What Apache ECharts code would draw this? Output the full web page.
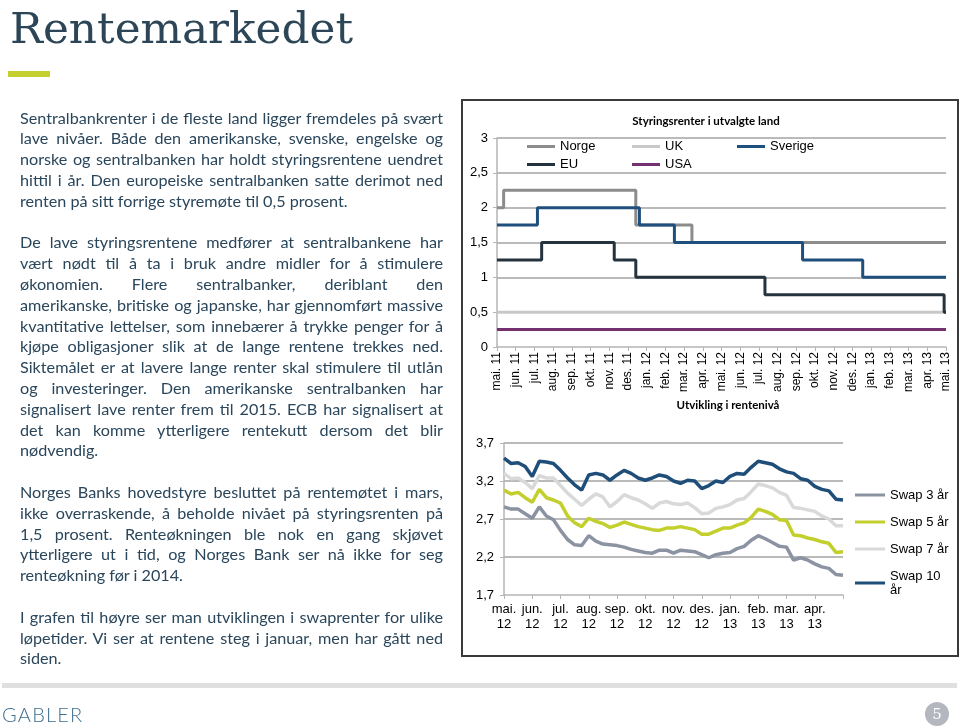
<!DOCTYPE html>
<html>
<head>
<meta charset="utf-8">
<script src="https://cdn.jsdelivr.net/npm/echarts@6/dist/echarts.min.js"></script>
<style>
  html, body { margin:0; padding:0; background:#fff; }
  #page { position:relative; width:960px; height:728px; overflow:hidden; background:#fff; }
  #chart { position:absolute; left:0; top:0; width:960px; height:728px; }
  #title { position:absolute; left:10px; top:6px; font-family:'DejaVu Serif'; color:#2c4657; line-height:1; white-space:nowrap; }
  #bar { position:absolute; left:8px; top:71px; width:42px; height:6px; background:#c5cf2d; }
  #text { position:absolute; left:20px; width:423px; color:#2a465b; font-family:Lato, 'Noto Sans', sans-serif; }
  #text div { height:20.8px; line-height:20.8px; overflow:visible; }
  #text .j { text-align:justify; text-align-last:justify; }
  #text .l { text-align:left; }
  #footbar { position:absolute; left:2px; top:683px; width:955px; height:5px; background:#dfdfdf; }
  #gabler { position:absolute; left:2px; top:703px; font-family:Lato, sans-serif; font-weight:300; font-size:20px; letter-spacing:1.2px; color:#3f6f8c; line-height:22px; }
  #pnum { position:absolute; left:925px; top:702px; width:24px; height:24px; border-radius:12px; background:#b4b7bf; color:#fff; font-family:'DejaVu Serif'; font-size:15px; line-height:24px; text-align:center; }
</style>
</head>
<body>
<div id="page">
  <div id="chart"></div>
  <div id="title">Rentemarkedet</div>
  <div id="bar"></div>
  <div id="text"></div>
  <div id="footbar"></div>
  <div id="gabler">GABLER</div>
  <div id="pnum">5</div>
</div>
<script>
// ---------- Chart 1: Styringsrenter i utvalgte land ----------
const topMonthLabels = ['mai. 11','jun. 11','jul. 11','aug. 11','sep. 11','okt. 11','nov. 11','des. 11',
  'jan. 12','feb. 12','mar. 12','apr. 12','mai. 12','jun. 12','jul. 12','aug. 12','sep. 12','okt. 12',
  'nov. 12','des. 12','jan. 13','feb. 13','mar. 13','apr. 13','mai. 13'];

const norgeDates   = ['2011-05-01','2011-05-12','2011-12-14','2012-03-14','2013-05-01'];
const norgeRates   = [2.00, 2.25, 1.75, 1.50, 1.50];
const ukDates      = ['2011-05-01','2013-05-01'];
const ukRates      = [0.50, 0.50];
const sverigeDates = ['2011-05-01','2011-07-06','2011-12-20','2012-02-15','2012-09-11','2012-12-18','2013-05-01'];
const sverigeRates = [1.75, 2.00, 1.75, 1.50, 1.25, 1.00, 1.00];
const euDates      = ['2011-05-01','2011-07-13','2011-11-09','2011-12-14','2012-07-11','2013-04-28','2013-05-01'];
const euRates      = [1.25, 1.50, 1.25, 1.00, 0.75, 0.50, 0.50];
const usaDates     = ['2011-05-01','2013-05-01'];
const usaRates     = [0.25, 0.25];

// ---------- Chart 2: Utvikling i rentenivå (quarter-month samples, mai 12 - mai 13) ----------
const bottomMonthLabels = ['mai.\n12','jun.\n12','jul.\n12','aug.\n12','sep.\n12','okt.\n12',
  'nov.\n12','des.\n12','jan.\n13','feb.\n13','mar.\n13','apr.\n13'];

const swap3 = [2.86,2.83,2.83,2.77,2.71,2.86,2.74,2.69,2.55,2.43,2.36,2.35,2.48,2.41,2.37,2.36,2.35,2.33,2.30,2.28,2.26,2.25,2.29,2.29,2.25,
  2.29,2.28,2.27,2.23,2.19,2.23,2.25,2.26,2.31,2.34,2.42,2.48,2.44,2.39,2.34,2.33,2.16,2.19,2.16,2.11,2.07,2.05,1.97,1.96];
const swap5 = [3.08,3.03,3.05,2.98,2.92,3.09,2.98,2.95,2.91,2.74,2.65,2.60,2.71,2.67,2.64,2.59,2.62,2.66,2.63,2.60,2.58,2.56,2.55,2.58,2.58,
  2.60,2.58,2.56,2.50,2.50,2.54,2.58,2.58,2.62,2.65,2.72,2.83,2.80,2.76,2.69,2.68,2.49,2.48,2.45,2.43,2.40,2.38,2.26,2.27];
const swap7 = [3.30,3.23,3.24,3.18,3.10,3.27,3.24,3.24,3.14,3.04,2.96,2.88,2.96,3.03,2.99,2.86,2.93,3.02,2.98,2.95,2.90,2.84,2.91,2.93,2.90,
  2.89,2.91,2.85,2.77,2.78,2.84,2.86,2.89,2.95,2.97,3.06,3.16,3.14,3.11,3.05,3.01,2.85,2.84,2.82,2.80,2.74,2.70,2.61,2.61];
const swap10 = [3.50,3.43,3.44,3.39,3.26,3.46,3.45,3.43,3.34,3.24,3.15,3.08,3.28,3.30,3.28,3.21,3.28,3.34,3.30,3.24,3.21,3.24,3.28,3.26,3.20,
  3.17,3.21,3.20,3.10,3.14,3.20,3.18,3.26,3.30,3.29,3.38,3.46,3.44,3.42,3.36,3.32,3.30,3.23,3.21,3.13,3.09,3.07,2.96,2.95];

// ---------- Text ----------
const para1 = ['Sentralbankrenter i de fleste land ligger fremdeles på svært',
  'lave nivåer. Både den amerikanske, svenske, engelske og',
  'norske og sentralbanken har holdt styringsrentene uendret',
  'hittil i år. Den europeiske sentralbanken satte derimot ned',
  'renten på sitt forrige styremøte til 0,5 prosent.'];
const para2 = ['De lave styringsrentene medfører at sentralbankene har',
  'vært nødt til å ta i bruk andre midler for å stimulere',
  'økonomien. Flere sentralbanker, deriblant den',
  'amerikanske, britiske og japanske, har gjennomført massive',
  'kvantitative lettelser, som innebærer å trykke penger for å',
  'kjøpe obligasjoner slik at de lange rentene trekkes ned.',
  'Siktemålet er at lavere lange renter skal stimulere til utlån',
  'og investeringer. Den amerikanske sentralbanken har',
  'signalisert lave renter frem til 2015. ECB har signalisert at',
  'det kan komme ytterligere rentekutt dersom det blir',
  'nødvendig.'];
const para3 = ['Norges Banks hovedstyre besluttet på rentemøtet i mars,',
  'ikke overraskende, å beholde nivået på styringsrenten på',
  '1,5 prosent. Renteøkningen ble nok en gang skjøvet',
  'ytterligere ut i tid, og Norges Bank ser nå ikke for seg',
  'renteøkning før i 2014.'];
const para4 = ['I grafen til høyre ser man utviklingen i swaprenter for ulike',
  'løpetider. Vi ser at rentene steg i januar, men har gått ned',
  'siden.'];

// ---- build text ----
(function () {
  const ctx = document.createElement('canvas').getContext('2d');
  ctx.font = '100px Lato';
  let fs = 100 * 328 / ctx.measureText(para1[4]).width;
  const all = [].concat(para1, para2, para3, para4);
  let maxW = 0;
  all.forEach(s => { maxW = Math.max(maxW, ctx.measureText(s).width); });
  fs = Math.min(fs, 100 * 420 / maxW);
  const box = document.getElementById('text');
  box.style.fontSize = fs.toFixed(2) + 'px';
  box.style.top = (120 - 12.4) + 'px';
  [para1, para2, para3, para4].forEach((p, pi) => {
    if (pi > 0) { const b = document.createElement('div'); box.appendChild(b); }
    p.forEach((line, i) => {
      const d = document.createElement('div');
      d.className = (i === p.length - 1) ? 'l' : 'j';
      d.textContent = line;
      box.appendChild(d);
    });
  });
  ctx.font = '100px "DejaVu Serif"';
  const tw = ctx.measureText('Rentemarkedet').width;
  const tfs = 100 * 343 / tw;
  const t = document.getElementById('title');
  t.style.fontSize = tfs.toFixed(2) + 'px';
  t.style.top = (43 - 0.843 * tfs) + 'px';
})();

// ---- charts ----
function monthPos(s) {
  const [y, m, d] = s.split('-').map(Number);
  const dim = new Date(y, m, 0).getDate();
  return (y - 2011) * 12 + (m - 5) + (d - 1) / dim;
}
function stepData(dates, rates) { return dates.map((d, i) => [monthPos(d), rates[i]]); }
function swapData(arr) { const n = arr.length; return arr.map((v, i) => [i * 12 / (n - 1), v]); }
const fmtNum = v => (Math.round(v * 10) / 10).toString().replace('.', ',');

const AX = '#b5b5b5', GR = '#a3a3a3', FONT = 'Liberation Sans';
const legendBase = { padding: 0, icon: 'rect', itemWidth: 28, itemHeight: 3, selectedMode: false,
  textStyle: { fontSize: 13, fontFamily: FONT, color: '#000' } };

const chart = echarts.init(document.getElementById('chart'), null, { renderer: 'canvas' });
chart.setOption({
  animation: false,
  graphic: [
    { type: 'rect', silent: true, shape: { x: 462, y: 100, width: 496, height: 556 },
      style: { fill: 'none', stroke: '#3a3a3a', lineWidth: 2 } },
    { type: 'text', x: 706, y: 121, silent: true,
      style: { text: 'Styringsrenter i utvalgte land', font: 'bold 11.5px Lato', fill: '#000', align: 'center', verticalAlign: 'middle' } },
    { type: 'text', x: 728, y: 405, silent: true,
      style: { text: 'Utvikling i rentenivå', font: 'bold 11.5px Lato', fill: '#000', align: 'center', verticalAlign: 'middle' } }
  ],
  legend: [
    Object.assign({}, legendBase, { data: ['Norge'], left: 527, top: 140 }),
    Object.assign({}, legendBase, { data: ['UK'], left: 632, top: 140 }),
    Object.assign({}, legendBase, { data: ['Sverige'], left: 737, top: 140 }),
    Object.assign({}, legendBase, { data: ['EU'], left: 527, top: 158 }),
    Object.assign({}, legendBase, { data: ['USA'], left: 632, top: 158 }),
    Object.assign({}, legendBase, { data: ['Swap 3 år', 'Swap 5 år', 'Swap 7 år', 'Swap 10 år'],
      orient: 'vertical', left: 855, top: 488, itemWidth: 30, itemGap: 13,
      formatter: n => n === 'Swap 10 år' ? 'Swap 10\når' : n,
      textStyle: { fontSize: 13, fontFamily: FONT, color: '#000', lineHeight: 14 } })
  ],
  grid: [
    { left: 497, top: 138, width: 449, height: 209 },
    { left: 504, top: 443, width: 339, height: 152 }
  ],
  xAxis: [
    { type: 'value', gridIndex: 0, min: 0, max: 24, interval: 1,
      axisLine: { show: true, onZero: false, lineStyle: { color: AX, width: 1.5 } },
      axisTick: { show: true, length: 4, lineStyle: { color: AX } },
      axisLabel: { rotate: 90, margin: 5, fontSize: 12, fontFamily: FONT, color: '#000',
        showMinLabel: true, showMaxLabel: true, hideOverlap: false,
        formatter: v => topMonthLabels[Math.round(v)] || '' },
      splitLine: { show: false } },
    { type: 'value', gridIndex: 1, min: 0, max: 12, interval: 1,
      axisLine: { show: true, onZero: false, lineStyle: { color: AX, width: 1.5 } },
      axisTick: { show: true, length: 4, lineStyle: { color: AX } },
      axisLabel: { margin: 7, fontSize: 13, fontFamily: FONT, color: '#000', lineHeight: 15,
        showMinLabel: true, hideOverlap: false,
        formatter: v => bottomMonthLabels[Math.round(v)] || '' },
      splitLine: { show: false } }
  ],
  yAxis: [
    { type: 'value', gridIndex: 0, min: 0, max: 3, interval: 0.5,
      axisLine: { show: true, lineStyle: { color: AX, width: 1.5 } },
      axisTick: { show: true, length: 4, lineStyle: { color: AX } },
      axisLabel: { margin: 9, fontSize: 13, fontFamily: FONT, color: '#000', formatter: fmtNum,
        showMinLabel: true, showMaxLabel: true },
      splitLine: { show: true, showMinLine: false, lineStyle: { color: GR, width: 1.5 } } },
    { type: 'value', gridIndex: 1, min: 1.7, max: 3.7, interval: 0.5,
      axisLine: { show: true, lineStyle: { color: AX, width: 1.5 } },
      axisTick: { show: true, length: 4, lineStyle: { color: AX } },
      axisLabel: { margin: 10, fontSize: 13, fontFamily: FONT, color: '#000', formatter: fmtNum,
        showMinLabel: true, showMaxLabel: true },
      splitLine: { show: true, showMinLine: false, lineStyle: { color: GR, width: 1.5 } } }
  ],
  series: [
    { name: 'Norge', type: 'line', step: 'end', xAxisIndex: 0, yAxisIndex: 0, showSymbol: false,
      color: '#8c8c8c', lineStyle: { width: 3 }, data: stepData(norgeDates, norgeRates) },
    { name: 'UK', type: 'line', step: 'end', xAxisIndex: 0, yAxisIndex: 0, showSymbol: false,
      color: '#c8c8c8', lineStyle: { width: 3 }, data: stepData(ukDates, ukRates) },
    { name: 'Sverige', type: 'line', step: 'end', xAxisIndex: 0, yAxisIndex: 0, showSymbol: false,
      color: '#1f4f7d', lineStyle: { width: 3 }, data: stepData(sverigeDates, sverigeRates) },
    { name: 'EU', type: 'line', step: 'end', xAxisIndex: 0, yAxisIndex: 0, showSymbol: false,
      color: '#25333f', lineStyle: { width: 3 }, data: stepData(euDates, euRates) },
    { name: 'USA', type: 'line', step: 'end', xAxisIndex: 0, yAxisIndex: 0, showSymbol: false,
      color: '#74306f', lineStyle: { width: 3 }, data: stepData(usaDates, usaRates) },
    { name: 'Swap 3 år', type: 'line', xAxisIndex: 1, yAxisIndex: 1, showSymbol: false,
      color: '#8b92a1', lineStyle: { width: 3.5 }, data: swapData(swap3) },
    { name: 'Swap 5 år', type: 'line', xAxisIndex: 1, yAxisIndex: 1, showSymbol: false,
      color: '#c2cf2c', lineStyle: { width: 3.5 }, data: swapData(swap5) },
    { name: 'Swap 7 år', type: 'line', xAxisIndex: 1, yAxisIndex: 1, showSymbol: false,
      color: '#d9d9d9', lineStyle: { width: 3.5 }, data: swapData(swap7) },
    { name: 'Swap 10 år', type: 'line', xAxisIndex: 1, yAxisIndex: 1, showSymbol: false,
      color: '#1f4e79', lineStyle: { width: 3.5 }, data: swapData(swap10) }
  ]
});
</script>
</body>
</html>
